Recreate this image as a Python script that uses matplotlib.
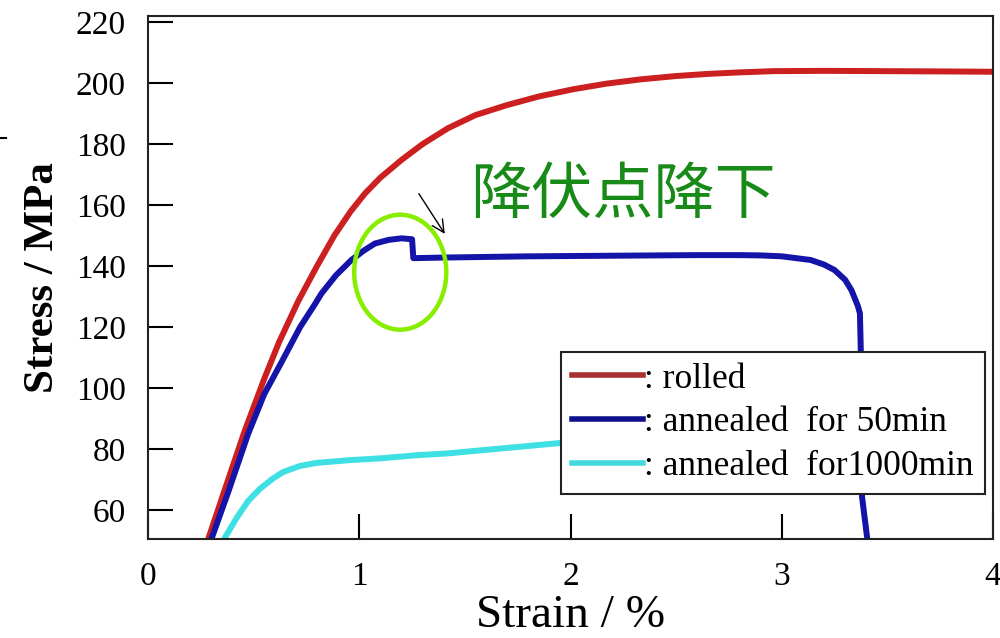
import matplotlib
matplotlib.use("Agg")
import matplotlib.pyplot as plt
from matplotlib.patches import Ellipse
from matplotlib.lines import Line2D

# strain (%) / stress (MPa)
rolled_strain = [0.285, 0.36, 0.458, 0.55, 0.62, 0.711, 0.80, 0.882, 0.96, 1.027, 1.10, 1.20,
                 1.30, 1.42, 1.55, 1.70, 1.85, 2.015, 2.17, 2.33, 2.50, 2.65, 2.80, 2.96,
                 3.2, 3.5, 3.8, 4.0]
rolled_stress = [50.5, 66, 86, 103, 115, 128.5, 140, 150, 158, 163.8, 169, 174.8,
                 180, 185.2, 189.5, 192.8, 195.6, 198.0, 199.8, 201.2, 202.3, 203.0, 203.5, 203.9,
                 204.0, 203.9, 203.8, 203.7]

ann50_strain = [0.30, 0.38, 0.474, 0.55, 0.632, 0.72, 0.79, 0.821, 0.89, 0.963, 1.02, 1.074,
                1.14, 1.20, 1.25, 1.256, 1.40, 1.6, 1.8, 2.0, 2.2, 2.4, 2.6, 2.8, 2.9, 3.0,
                3.137, 3.2, 3.25, 3.30, 3.33, 3.36, 3.37, 3.374, 3.378, 3.38, 3.405]
ann50_stress = [50.5, 66, 85, 98, 108.5, 120, 127.5, 131, 137, 142, 145, 147.4,
                148.6, 149.1, 148.8, 142.6, 142.8, 143.0, 143.2, 143.3, 143.4, 143.5, 143.6, 143.6, 143.5, 143.2,
                142, 140.5, 138.7, 135.5, 132.1, 127, 124.5, 113, 90, 64.4, 50.5]

ann1000_strain = [0.36, 0.42, 0.474, 0.53, 0.59, 0.64, 0.72, 0.80, 0.957, 1.105, 1.273, 1.42,
                  1.59, 1.75, 1.934, 2.1]
ann1000_stress = [50.5, 57.5, 63, 67, 70.3, 72.5, 74.5, 75.5, 76.4, 77, 78, 78.6,
                  79.7, 80.7, 81.9, 82.8]

labels = [": rolled", ": annealed  for 50min", ": annealed  for1000min"]
x_ticks = [0, 1, 2, 3, 4]
y_ticks = [60, 80, 100, 120, 140, 160, 180, 200, 220]

serif = "Liberation Serif"

fig = plt.figure(figsize=(10, 6.38), dpi=100)
ax = fig.add_axes([0.148, 0.155, 0.845, 0.82])

ax.plot(rolled_strain, rolled_stress, color="#cc1f1f", lw=4.3, solid_capstyle="butt")
ax.plot(ann50_strain, ann50_stress, color="#1414a8", lw=4.3, solid_capstyle="butt")
ax.plot(ann1000_strain, ann1000_stress, color="#3ee0e4", lw=4.3, solid_capstyle="butt")

ax.set_xlim(0, 4)
ax.set_ylim(50.5, 222)
ax.set_xticks(x_ticks)
ax.set_yticks(y_ticks)
ax.tick_params(direction="in", length=18, width=1.5, top=False, right=False,
               labelsize=24, pad=16)
for lab in ax.get_xticklabels() + ax.get_yticklabels():
    lab.set_fontfamily(serif)
for s in ax.spines.values():
    s.set_linewidth(1.5)
    s.set_color("#222222")

ax.set_xlabel("Strain / %", fontfamily=serif, fontsize=34, labelpad=2)
ax.set_ylabel("Stress / MPa", fontfamily=serif, fontsize=31, fontweight="bold", labelpad=10)

# legend
handles = [Line2D([], [], color="#a83030", lw=4),
           Line2D([], [], color="#10108c", lw=4),
           Line2D([], [], color="#44d8e0", lw=4)]
leg = ax.legend(handles, labels, loc="upper left", bbox_to_anchor=(0.489, 0.3576),
                borderaxespad=0, fancybox=False, framealpha=1, edgecolor="#222222",
                prop={"family": serif, "size": 25.5}, handlelength=2.0, handletextpad=0.05,
                labelspacing=0.3, borderpad=0.3)
leg.get_frame().set_linewidth(1.5)
leg.set_zorder(5)

# yield point drop annotation
ax.add_patch(Ellipse((1.194, 138.0), 0.436, 37.7, fill=False, edgecolor="#88ee00", lw=3.2, zorder=4))
ax.annotate("", xy=(1.412, 149.8), xytext=(1.275, 164.5),
            arrowprops=dict(arrowstyle="->", color="black", lw=1, mutation_scale=22))
ax.text(1.526, 163.0, "降伏点降下", color="#178a17", fontsize=44,
        fontfamily=["Noto Sans CJK JP", "DejaVu Sans"], va="center", ha="left")

fig.add_artist(Line2D([0, 0.006], [1 - 138 / 638] * 2, color="black", lw=1.5))

fig.savefig("out.png", dpi=100)
